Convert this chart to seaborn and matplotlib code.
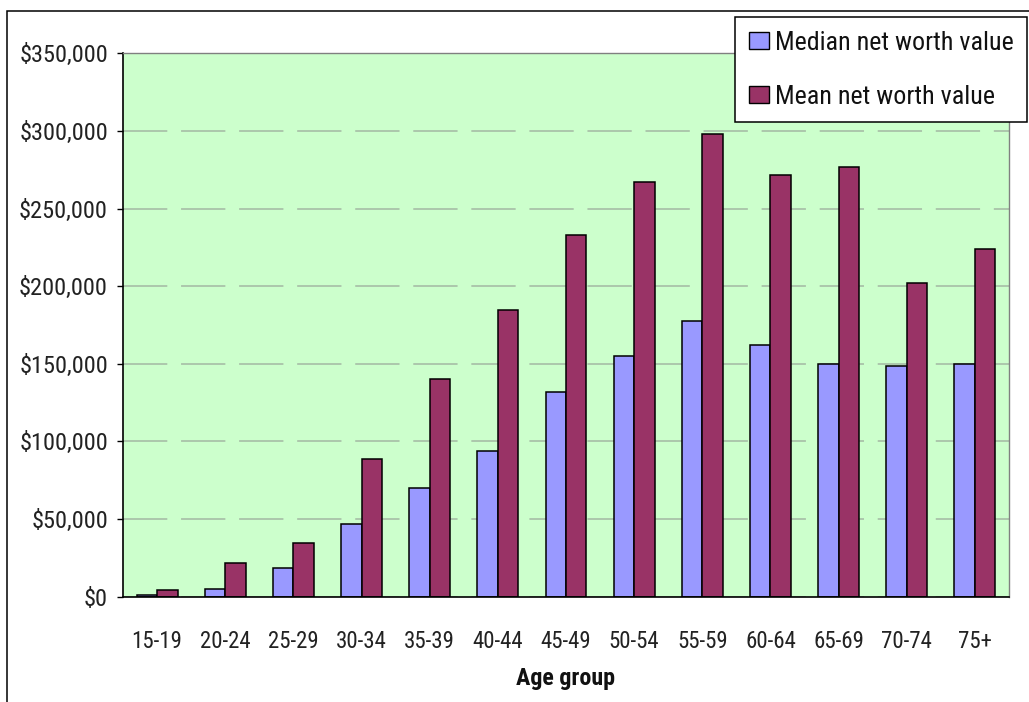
import numpy as np
import pandas as pd
import matplotlib
matplotlib.use("Agg")
import matplotlib.pyplot as plt
import seaborn as sns
from matplotlib import font_manager as fm
from matplotlib.font_manager import FontProperties
from matplotlib.patches import Rectangle
from matplotlib.ticker import FuncFormatter

# Net worth by age group
age_groups = ["15-19", "20-24", "25-29", "30-34", "35-39", "40-44", "45-49",
              "50-54", "55-59", "60-64", "65-69", "70-74", "75+"]
median_net_worth = [1000, 5200, 18500, 47000, 70200, 93700, 132000,
                    155300, 177700, 162000, 149700, 148800, 149700]
mean_net_worth = [4100, 21800, 34900, 89000, 140000, 184400, 233000,
                  267000, 298300, 271300, 277000, 202000, 224000]
series_names = ["Median net worth value", "Mean net worth value"]
series_colors = ["#9999FF", "#993366"]
y_ticks = [0, 50000, 100000, 150000, 200000, 250000, 300000, 350000]

df = pd.DataFrame({
    "Age group": age_groups * 2,
    "value": median_net_worth + mean_net_worth,
    "series": [series_names[0]] * len(age_groups) + [series_names[1]] * len(age_groups),
})

sns.set_style("white")
plt.rcParams["font.family"] = ["Liberation Sans", "DejaVu Sans"]

W, H = 1029, 702
fig = plt.figure(figsize=(W / 100, H / 100), dpi=100)
renderer = fig.canvas.get_renderer()


def measure(text, fp):
    w, h, d = renderer.get_text_width_height_descent(text, fp, ismath=False)
    return w, h


def _weight(v):
    if isinstance(v, (int, float)):
        return v
    return fm.weight_dict.get(v, 400)


# pick the sans face whose proportions suit tall, narrow tick labels
families = ("Liberation Sans", "Arial", "Roboto", "Noto Sans", "Open Sans", "Lato", "Inter")
regular_faces = [f for f in fm.fontManager.ttflist
                 if f.name.startswith(families) and f.style == "normal"
                 and _weight(f.weight) == 400 and "Mono" not in f.name
                 and "CJK" not in f.name and "Display" not in f.name
                 and f.fname.lower().endswith((".ttf", ".otf"))]
target_ratio = 20 / 82
best, best_err = None, 1e9
for face in regular_faces:
    try:
        fp = FontProperties(fname=face.fname, size=20)
        w, _ = measure("$350,000", fp)
        _, h = measure("0", fp)
    except Exception:
        continue
    err = abs(h / w - target_ratio)
    if err < best_err:
        best, best_err = face, err

if best is not None:
    regular_file = best.fname
    bold_file = regular_file
    for f in fm.fontManager.ttflist:
        if (f.name == best.name and f.style == "normal" and _weight(f.weight) == 700
                and f.stretch == best.stretch):
            bold_file = f.fname
            break
else:
    regular_file = fm.findfont(FontProperties(family="Liberation Sans"))
    bold_file = fm.findfont(FontProperties(family="Liberation Sans", weight="bold"))


def fitted(text, width_px, height_text, height_px, bold=False, width_weight=0.6):
    path = bold_file if bold else regular_file
    fp = FontProperties(fname=path, size=20)
    w, _ = measure(text, fp)
    _, h = measure(height_text, fp)
    size = (20 * width_px / w) ** width_weight * (20 * height_px / h) ** (1 - width_weight)
    return FontProperties(fname=path, size=size)


fp_ytick = fitted("$350,000", 82, "0", 20)
fp_xtick = fitted("40-44", 48, "0", 18)
fp_xlabel = fitted("Age group", 100, "A", 17, bold=True)
fp_legend = fitted("Median net worth value", 225, "M", 23.5, width_weight=0.8)

ax_left, ax_right, ax_top, ax_bottom = 123, 1009, 53.3, 596.7
ax = fig.add_axes([ax_left / W, 1 - ax_bottom / H, (ax_right - ax_left) / W, (ax_bottom - ax_top) / H])
ax.set_facecolor("#CCFFCC")

sns.barplot(data=df, x="Age group", y="value", hue="series", order=age_groups,
            hue_order=series_names, palette=series_colors, width=0.6,
            edgecolor="black", linewidth=1.1, saturation=1, ax=ax)

ax.set_xlim(-0.5, len(age_groups) - 0.5)
ax.set_ylim(0, 350000)
ax.set_yticks(y_ticks)
ax.yaxis.set_major_formatter(FuncFormatter(lambda v, p: f"${v:,.0f}"))

# dashed horizontal gridlines
ax.set_axisbelow(True)
ax.yaxis.grid(True, color="#A3B8A3", linestyle=(0, (29, 9)), linewidth=1.1)
ax.xaxis.grid(False)

# category boundary ticks on x, labels at centres
ax.set_xticks(np.arange(-0.5, len(age_groups), 1.0), minor=True)
ax.tick_params(axis="x", which="major", length=0, pad=24, labelcolor="#222222")
ax.tick_params(axis="x", which="minor", length=6.5, width=1, color="black", direction="out")
ax.tick_params(axis="y", which="major", length=4.3, width=1, color="black", direction="out",
               pad=6.5, labelcolor="#222222", left=True)
for lbl in ax.xaxis.get_majorticklabels():
    lbl.set_fontproperties(fp_xtick)
for lbl in ax.yaxis.get_majorticklabels():
    lbl.set_fontproperties(fp_ytick)

for side in ("left", "bottom"):
    ax.spines[side].set_color("black")
    ax.spines[side].set_linewidth(1.2)
for side in ("top", "right"):
    ax.spines[side].set_color("#808080")
    ax.spines[side].set_linewidth(1.0)

ax.set_ylabel("")
ax.set_xlabel("Age group", fontproperties=fp_xlabel, color="#111111")
ax.xaxis.set_label_coords(0.5, (ax_bottom - 679) / (ax_bottom - ax_top))
ax.xaxis.label.set_va("center")

# legend box in the top-right corner
handles, labels = ax.get_legend_handles_labels()
if ax.get_legend() is not None:
    ax.get_legend().remove()
fs_px = fp_legend.get_size_in_points() * 100 / 72
_, row_h = measure("lp", fp_legend)
label_spacing = max(0.2, (54 - row_h) / fs_px)
border_pad = max(0.1, (105 - 2 * row_h - label_spacing * fs_px) / 2 / fs_px)
leg = ax.legend(handles, labels, loc="upper right", prop=fp_legend,
                bbox_to_anchor=(1027 / W, 1 - 17 / H), bbox_transform=fig.transFigure,
                frameon=True, fancybox=False, framealpha=1,
                edgecolor="black", handlelength=20 / fs_px, handleheight=17 / fs_px,
                handletextpad=6 / fs_px, labelspacing=label_spacing, borderpad=border_pad,
                borderaxespad=0)
leg.get_frame().set_linewidth(1.1)
for t in leg.get_texts():
    t.set_color("#111111")
for h in leg.legend_handles:
    h.set_edgecolor("black")
    h.set_linewidth(1.0)

# outer chart frame
fig.add_artist(Rectangle((7 / W, -0.1), 1.2, 1.1 - 11 / H, transform=fig.transFigure,
                         fill=False, edgecolor="black", linewidth=1.1))

fig.savefig("out.png", dpi=100)
